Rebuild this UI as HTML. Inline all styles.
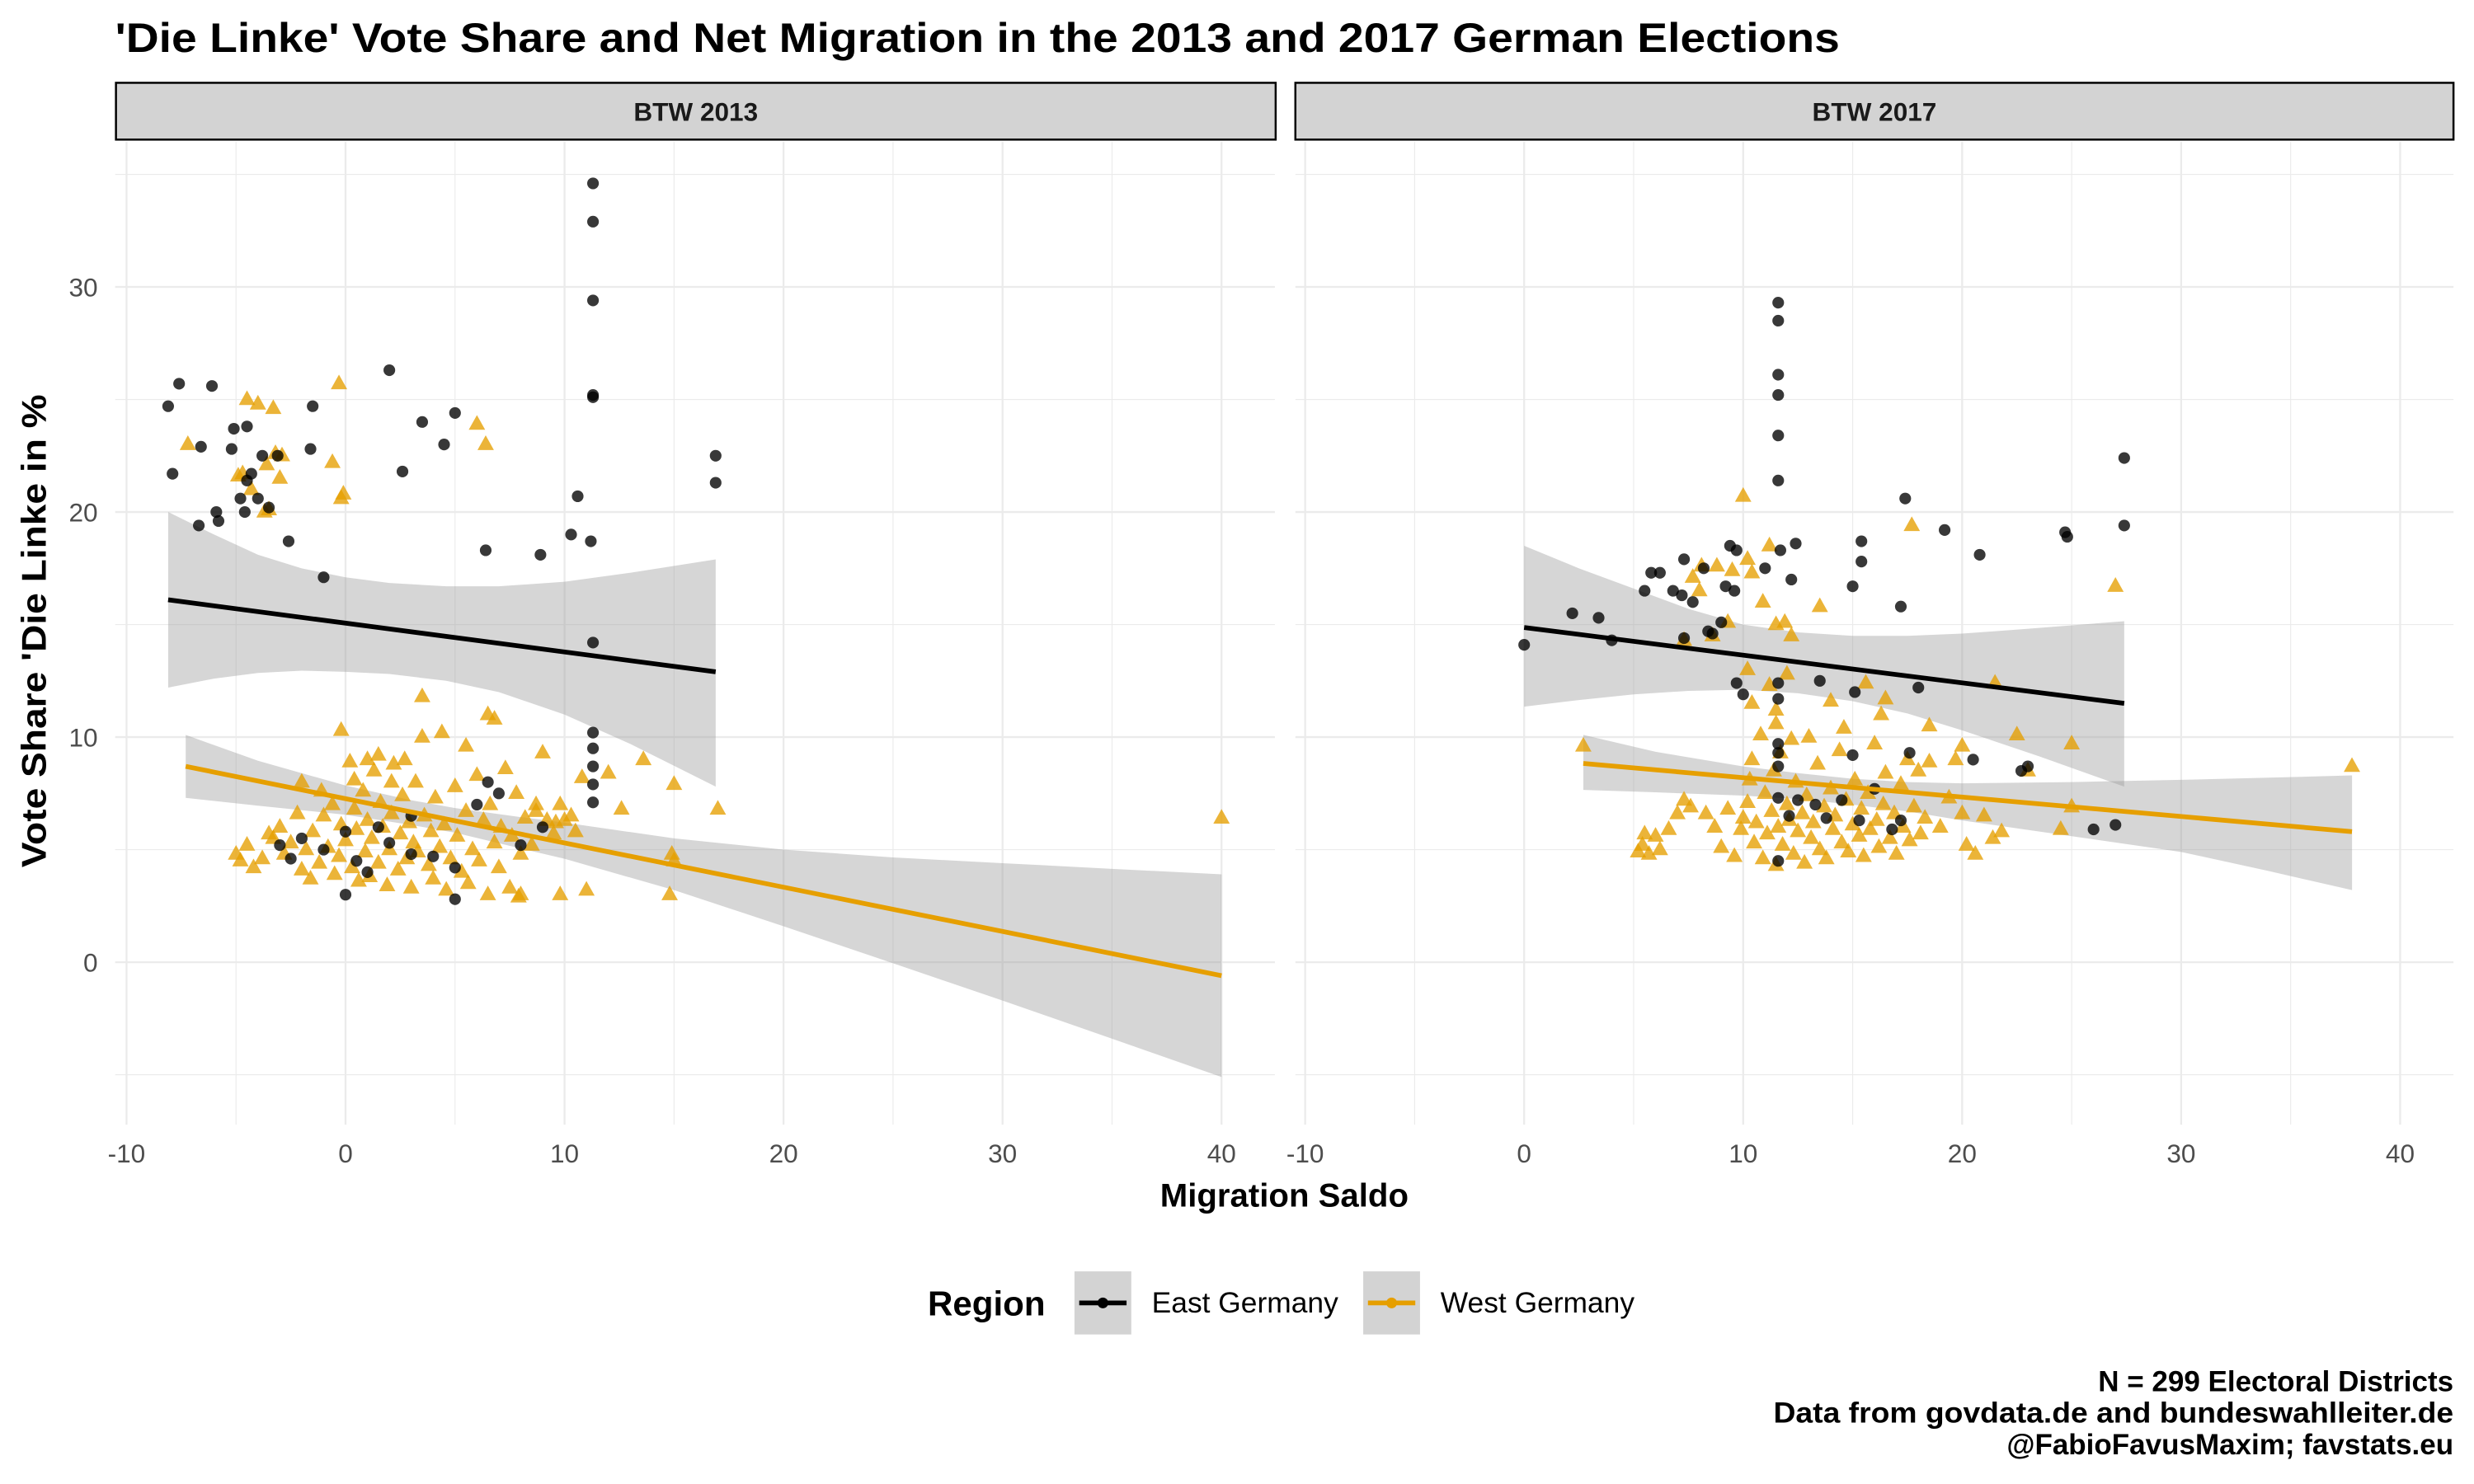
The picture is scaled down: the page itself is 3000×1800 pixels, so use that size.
<!DOCTYPE html>
<html><head><meta charset="utf-8">
<style>
html,body{margin:0;padding:0;background:#fff;}
svg{display:block;font-family:"Liberation Sans",Arial,sans-serif;}
</style></head>
<body>
<svg id="chart" width="3000" height="1800" viewBox="0 0 1568 940.8" xmlns="http://www.w3.org/2000/svg">
<rect x="0" y="0" width="1568" height="940.8" fill="#fff"/>
<text x="73" y="33" font-size="26" font-weight="bold" fill="#000" textLength="1093" lengthAdjust="spacingAndGlyphs">'Die Linke' Vote Share and Net Migration in the 2013 and 2017 German Elections</text>
<g id="grid"></g>
<g id="ribbons"></g>
<g id="points"></g>
<g id="lines"></g>
<g>
<rect x="73.5" y="52.5" width="735" height="36" fill="#d3d3d3" stroke="#000" stroke-width="1.3"/>
<text x="441" y="76.5" font-size="16.5" font-weight="bold" text-anchor="middle" fill="#1a1a1a">BTW 2013</text>
</g>
<g>
<rect x="821" y="52.5" width="734" height="36" fill="#d3d3d3" stroke="#000" stroke-width="1.3"/>
<text x="1188" y="76.5" font-size="16.5" font-weight="bold" text-anchor="middle" fill="#1a1a1a">BTW 2017</text>
</g>
<g id="axes"></g>
<text transform="translate(29,400) rotate(-90)" font-size="22" font-weight="bold" text-anchor="middle" fill="#000" textLength="300" lengthAdjust="spacingAndGlyphs">Vote Share 'Die Linke in %</text>
<text x="814" y="765" font-size="21" font-weight="bold" text-anchor="middle" fill="#000">Migration Saldo</text>
<g>
<text x="588" y="834" font-size="22" font-weight="bold" fill="#000">Region</text>
<g>
<rect x="681" y="806" width="36" height="40" fill="#d3d3d3"/>
<line x1="684" y1="826" x2="714" y2="826" stroke="#000" stroke-width="3"/>
<circle cx="699" cy="826" r="3.4" fill="#000"/>
<text x="730" y="832" font-size="18.5" fill="#000">East Germany</text>
</g>
<g>
<rect x="864" y="806" width="36" height="40" fill="#d3d3d3"/>
<line x1="867" y1="826" x2="897" y2="826" stroke="#E69F00" stroke-width="3"/>
<circle cx="882" cy="826" r="3.4" fill="#E69F00"/>
<text x="913" y="832" font-size="18.5" fill="#000">West Germany</text>
</g>
</g>
<g font-size="18.3" font-weight="bold" text-anchor="end" fill="#000">
<text x="1555" y="882">N = 299 Electoral Districts</text>
<text x="1555" y="902" textLength="431" lengthAdjust="spacingAndGlyphs">Data from govdata.de and bundeswahlleiter.de</text>
<text x="1555" y="922">@FabioFavusMaxim; favstats.eu</text>
</g>
</svg>
<script>
const xTicks = [-10, 0, 10, 20, 30, 40];
const xMinor = [-5, 5, 15, 25, 35];
const yTicks = [0, 10, 20, 30];
const yMinor = [-5, 5, 15, 25, 35];
const panels = ["BTW 2013", "BTW 2017"];

const east2013 = [[-8.1,24.7],[-7.9,21.7],[-7.6,25.7],[-6.6,22.9],[-6.7,19.4],[-6.1,25.6],[-5.8,19.6],[-5.9,20.0],[-5.2,22.8],[-5.1,23.7],[-4.8,20.6],[-4.5,21.4],[-4.5,23.8],[-4.6,20.0],[-4.3,21.7],[-4.0,20.6],[-3.8,22.5],[-3.5,20.2],[-3.1,22.5],[-2.6,18.7],[-1.6,22.8],[-1.5,24.7],[-1.0,17.1],[2.0,26.3],[2.6,21.8],[3.5,24.0],[4.5,23.0],[5.0,24.4],[6.4,18.3],[8.9,18.1],[10.3,19.0],[10.6,20.7],[11.3,34.6],[11.3,32.9],[11.3,29.4],[11.3,25.2],[11.3,25.1],[11.2,18.7],[11.3,14.2],[11.3,10.2],[11.3,9.5],[11.3,8.7],[11.3,7.9],[11.3,7.1],[16.9,22.5],[16.9,21.3],[0,3.0],[0.5,4.5],[-1,5.0],[2,5.3],[3,4.8],[4,4.7],[5,2.8],[6,7.0],[6.5,8.0],[7,7.5],[1.5,6.0],[-2,5.5],[-3,5.2],[8,5.2],[9,6.0],[3,6.5],[1,4.0],[5,4.2],[0,5.8],[-2.5,4.6]];
const west2013 = [[-5,4.8],[-4.2,4.2],[-4.5,5.2],[-3.8,4.6],[-3.3,5.5],[-3,6.0],[-2.8,4.8],[-2.5,5.3],[-2.2,6.6],[-2,4.1],[-1.8,5.0],[-1.6,3.7],[-1.5,5.8],[-1.2,4.4],[-1,6.5],[-0.8,5.1],[-0.6,7.0],[-0.5,3.9],[-0.3,4.7],[-0.2,6.1],[0,5.4],[0.2,8.9],[0.3,4.2],[0.4,6.8],[0.5,5.9],[0.6,3.6],[0.8,7.6],[0.9,4.9],[1,6.3],[1.1,3.8],[1.2,5.5],[1.3,8.5],[1.5,4.4],[1.6,7.1],[1.7,6.0],[1.9,3.4],[2,5.0],[2.1,6.6],[2.2,8.8],[2.4,4.1],[2.5,5.7],[2.6,7.4],[2.8,4.6],[2.9,6.2],[3,3.3],[3.1,5.3],[3.2,8.0],[3.3,4.9],[3.5,10.0],[3.6,6.5],[3.8,4.3],[3.9,5.8],[4,3.7],[4.1,7.3],[4.3,5.1],[4.5,6.1],[4.6,3.2],[4.8,4.6],[5,7.8],[5.1,5.6],[5.3,4.0],[5.5,6.7],[5.6,3.5],[5.8,5.0],[6,8.3],[6.1,4.5],[6.3,6.3],[6.5,3.0],[6.6,7.0],[6.8,5.3],[7,4.2],[7.1,6.0],[7.3,8.6],[7.5,3.3],[7.6,5.6],[7.8,7.5],[8,4.8],[8.2,6.4],[8.5,5.2],[8.7,7.0],[9,9.3],[9.2,6.3],[9.5,5.7],[9.8,7.0],[10,6.3],[10.3,6.5],[10.5,5.8],[10.8,8.2],[12.6,6.8],[12,8.4],[4.4,10.2],[-0.2,10.3],[1,9.0],[2.1,8.0],[5.5,9.6],[6.8,10.8],[-2,8.0],[-1.1,7.6],[0.4,8.1],[1.5,9.2],[2.7,9.0],[-3.5,5.7],[-4.8,4.5],[8.7,6.7],[9.6,6.2],[3.5,11.8],[6.5,11.0],[17,6.8],[15,7.9],[13.6,9.0],[14.9,4.8],[15.0,4.5],[14.8,3.0],[11.0,3.2],[9.8,3.0],[8.0,3.0],[7.9,2.9],[40.0,6.4],[-7.2,23.0],[-4.5,25.0],[-4,24.8],[-3.3,24.6],[-2.9,22.5],[-3.6,22.1],[-4.9,21.6],[-4.7,21.7],[-4.3,21.0],[-3.7,20.0],[-3.5,20.1],[-3.2,22.6],[-3.0,21.5],[-0.3,25.7],[-0.6,22.2],[-0.2,20.6],[-0.1,20.8],[6.0,23.9],[6.4,23.0]];
const east2017 = [[0,14.1],[2.2,15.5],[3.4,15.3],[4.0,14.3],[5.5,16.5],[5.8,17.3],[6.2,17.3],[6.8,16.5],[7.2,16.3],[7.3,17.9],[7.3,14.4],[7.7,16.0],[8.2,17.5],[8.4,14.7],[8.6,14.6],[9.0,15.1],[9.2,16.7],[9.4,18.5],[9.6,16.5],[9.7,18.3],[11.6,29.3],[11.6,28.5],[11.6,26.1],[11.6,25.2],[11.6,23.4],[11.6,21.4],[11.7,18.3],[12.4,18.6],[12.2,17.0],[11.0,17.5],[15.0,16.7],[15.4,18.7],[15.4,17.8],[17.2,15.8],[17.4,20.6],[19.2,19.2],[20.8,18.1],[20.5,9.0],[24.8,18.9],[24.7,19.1],[27.4,22.4],[27.4,19.4],[26.0,5.9],[27.0,6.1],[22.7,8.5],[23.0,8.7],[15.1,12.0],[11.6,11.7],[11.6,12.4],[11.6,9.7],[11.6,9.3],[11.6,8.7],[11.6,7.3],[11.6,4.5],[12.1,6.5],[13.3,7.0],[13.8,6.4],[14.5,7.2],[15.3,6.3],[16.0,7.7],[16.8,5.9],[17.2,6.3],[12.5,7.2],[15,9.2],[17.6,9.3],[13.5,12.5],[18.0,12.2],[10.0,11.9],[9.7,12.4]];
const west2017 = [[5.2,4.9],[5.5,5.7],[5.7,4.8],[6,5.6],[6.6,5.9],[7,6.6],[7.3,7.2],[7.6,6.9],[8.3,6.6],[8.7,6.0],[9,5.1],[9.3,6.8],[9.6,4.7],[9.9,5.9],[10,6.4],[10.2,7.1],[10.3,8.1],[10.4,9.0],[10.5,5.3],[10.6,6.2],[10.8,10.1],[10.9,4.6],[11,7.5],[11.1,5.7],[11.3,6.7],[11.4,8.5],[11.5,4.3],[11.6,6.0],[11.7,9.3],[11.8,5.2],[12,7.0],[12.1,6.3],[12.3,4.8],[12.4,8.0],[12.5,5.8],[12.7,6.6],[12.8,4.4],[12.9,7.4],[13.1,5.5],[13.2,6.2],[13.4,8.8],[13.5,5.0],[13.7,6.9],[13.8,4.6],[14,7.7],[14.1,5.9],[14.2,6.5],[14.4,9.4],[14.5,5.3],[14.7,7.2],[14.8,4.9],[15,6.1],[15.1,8.1],[15.3,5.6],[15.4,6.8],[15.5,4.7],[15.7,7.5],[15.8,5.9],[16,9.7],[16.1,6.3],[16.2,5.1],[16.4,7.0],[16.5,8.4],[16.7,5.5],[16.9,6.6],[17,4.8],[17.2,7.9],[17.3,6.0],[17.5,9.0],[17.6,5.4],[17.8,6.9],[18,8.5],[18.1,5.7],[18.3,6.4],[18.5,8.9],[19,6.0],[19.4,7.3],[19.7,9.0],[20,6.6],[20.2,5.2],[20.6,4.8],[21,6.5],[21.4,5.5],[21.8,5.8],[22.5,10.1],[23,8.5],[25,9.7],[25,6.9],[24.5,5.9],[10.4,11.5],[11.2,12.3],[11.5,11.2],[12,12.8],[11.9,15.1],[10.9,16.0],[10.2,13.0],[11.5,10.6],[14,11.6],[16.3,11.0],[16.5,11.7],[13,10.0],[15.6,12.4],[18.5,10.5],[20,9.6],[21.5,12.4],[10,20.7],[11.2,18.5],[10.2,17.9],[9.5,17.4],[10.4,17.3],[13.5,15.8],[7.7,17.1],[8.1,17.6],[9.3,15.1],[8.6,14.5],[7.3,14.3],[17.7,19.4],[27,16.7],[11.5,15.0],[12.2,14.5],[2.7,9.6],[37.8,8.7],[8.8,17.6],[8,16.5],[5.4,5.2],[6.2,5.0],[12.2,9.9],[14.6,10.4]];

// Regression fits: [x, fitted] endpoints
const fitEast2013 = [[-8.1,16.1],[16.9,12.9]];
const fitWest2013 = [[-7.3,8.7],[40,-0.6]];
const fitEast2017 = [[0,14.87],[27.4,11.5]];
const fitWest2017 = [[2.7,8.83],[37.8,5.8]];
// Confidence bands
const bandXEast2013 = [-8.1,-6,-4,-2,0,2,4.6,7,10,13,16.9];
const bandHiEast2013 = [20.0,19.0,18.1,17.5,17.1,16.85,16.7,16.7,16.9,17.3,17.9];
const bandLoEast2013 = [12.2,12.6,12.85,12.95,12.9,12.8,12.5,12.0,11.0,9.7,7.8];
const bandXWest2013 = [-7.3,-4,0,3,5,8,10,15,20,25,30,35,40];
const bandHiWest2013 = [10.1,8.95,7.85,7.2,6.85,6.45,6.2,5.5,5.0,4.65,4.4,4.15,3.9];
const bandLoWest2013 = [7.3,6.95,6.55,6.1,5.75,5.05,4.6,3.2,1.6,-0.05,-1.7,-3.4,-5.1];
const bandXEast2017 = [0,2.5,5,7.5,10,12.5,15,17.5,20,23.5,27.4];
const bandHiEast2017 = [18.5,17.5,16.6,15.7,15.0,14.65,14.5,14.5,14.6,14.85,15.15];
const bandLoEast2017 = [11.35,11.65,11.9,12.05,12.1,11.95,11.6,11.05,10.3,9.15,7.8];
const bandXWest2017 = [2.7,6,10,12.5,15,17.5,20,25,30,34,37.8];
const bandHiWest2017 = [10.1,9.35,8.7,8.4,8.15,8.0,7.95,8.0,8.1,8.2,8.3];
const bandLoWest2017 = [7.65,7.55,7.4,7.25,7.0,6.7,6.3,5.6,4.9,4.05,3.2];

const NS = "http://www.w3.org/2000/svg";
const panelX0 = [219, 966];
const panelLeft = [73, 821];
const panelRight = [808, 1555];
const xScale = (p, v) => panelX0[p] + v * 13.88;
const yScale = v => 610 - v * 14.27;
const TOP = 90, BOTTOM = 713;
function mk(tag, attrs, parent) {
  const e = document.createElementNS(NS, tag);
  for (const k in attrs) e.setAttribute(k, attrs[k]);
  parent.appendChild(e);
  return e;
}
const grid = document.getElementById('grid');
const axes = document.getElementById('axes');
for (let p = 0; p < 2; p++) {
  xMinor.forEach(v => {
    const l = mk('line', {x1: xScale(p, v), x2: xScale(p, v), y1: TOP, y2: BOTTOM, stroke: '#ebebeb', 'stroke-width': 0.6}, grid);
    
    
  });
  yMinor.forEach(v => {
    const l = mk('line', {x1: panelLeft[p], x2: panelRight[p], y1: yScale(v), y2: yScale(v), stroke: '#ebebeb', 'stroke-width': 0.6}, grid);
    
    
  });
  xTicks.forEach(v => {
    const l = mk('line', {x1: xScale(p, v), x2: xScale(p, v), y1: TOP, y2: BOTTOM, stroke: '#ebebeb', 'stroke-width': 1.2}, grid);
    
    
    const t = mk('text', {x: xScale(p, v), y: 737, 'font-size': 16.5, fill: '#4d4d4d', 'text-anchor': 'middle'}, axes);
    
    
    t.textContent = v;
  });
  yTicks.forEach(v => {
    const l = mk('line', {x1: panelLeft[p], x2: panelRight[p], y1: yScale(v), y2: yScale(v), stroke: '#ebebeb', 'stroke-width': 1.2}, grid);
    
    
  });
}
yTicks.forEach(v => {
  const t = mk('text', {x: 62, y: yScale(v) + 6, 'font-size': 16.5, fill: '#4d4d4d', 'text-anchor': 'end'}, axes);
  
  
  t.textContent = v;
});

const ribbons = document.getElementById('ribbons');
function band(p, xs, hi, lo, name) {
  let d = '';
  xs.forEach((x, i) => { d += (i ? 'L' : 'M') + xScale(p, x).toFixed(1) + ',' + yScale(hi[i]).toFixed(1); });
  for (let i = xs.length - 1; i >= 0; i--) d += 'L' + xScale(p, xs[i]).toFixed(1) + ',' + yScale(lo[i]).toFixed(1);
  const e = mk('path', {d: d + 'Z', fill: '#999', 'fill-opacity': 0.4}, ribbons);
  
  
}
band(0, bandXEast2013, bandHiEast2013, bandLoEast2013, 'ci-band-east-2013');
band(0, bandXWest2013, bandHiWest2013, bandLoWest2013, 'ci-band-west-2013');
band(1, bandXEast2017, bandHiEast2017, bandLoEast2017, 'ci-band-east-2017');
band(1, bandXWest2017, bandHiWest2017, bandLoWest2017, 'ci-band-west-2017');

const pts = document.getElementById('points');
function circles(p, data, name) {
  data.forEach(d => {
    const c = mk('circle', {cx: xScale(p, d[0]), cy: yScale(d[1]), r: 3.7, fill: '#000', 'fill-opacity': 0.78}, pts);
    
    
  });
}
function tris(p, data, name) {
  data.forEach(d => {
    const x = xScale(p, d[0]), y = yScale(d[1]);
    const t = mk('polygon', {points: `${x},${y-5.8} ${x-5.2},${y+3.5} ${x+5.2},${y+3.5}`, fill: '#E69F00', 'fill-opacity': 0.78}, pts);
    
    
  });
}
tris(0, west2013, 'west-point-2013');
circles(0, east2013, 'east-point-2013');
tris(1, west2017, 'west-point-2017');
circles(1, east2017, 'east-point-2017');

const lines = document.getElementById('lines');
function fit(p, f, color, name) {
  const l = mk('line', {x1: xScale(p, f[0][0]), y1: yScale(f[0][1]), x2: xScale(p, f[1][0]), y2: yScale(f[1][1]), stroke: color, 'stroke-width': 3}, lines);
  
  
}
fit(0, fitEast2013, '#000', 'fit-line-east-2013');
fit(0, fitWest2013, '#E69F00', 'fit-line-west-2013');
fit(1, fitEast2017, '#000', 'fit-line-east-2017');
fit(1, fitWest2017, '#E69F00', 'fit-line-west-2017');
</script>
</body></html>
